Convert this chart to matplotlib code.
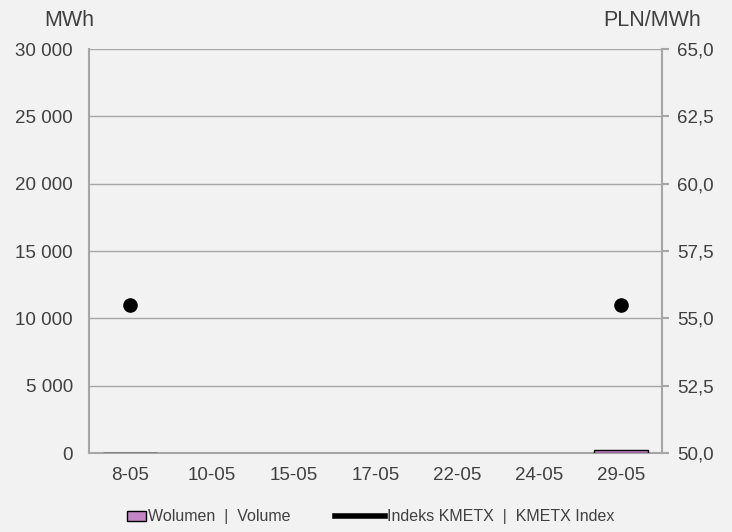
import numpy as np
import matplotlib
matplotlib.use("Agg")
import matplotlib.pyplot as plt
from matplotlib.patches import Patch
from matplotlib.lines import Line2D
from matplotlib.ticker import FuncFormatter

plt.rcParams['font.family'] = ['Liberation Sans', 'DejaVu Sans']

categories = ['8-05', '10-05', '15-05', '17-05', '22-05', '24-05', '29-05']
volume = [25, np.nan, np.nan, np.nan, np.nan, np.nan, 200]
index = [55.5, np.nan, np.nan, np.nan, np.nan, np.nan, 55.5]

left_ticks = [0, 5000, 10000, 15000, 20000, 25000, 30000]
right_ticks = [50.0, 52.5, 55.0, 57.5, 60.0, 62.5, 65.0]

bg = '#f2f2f2'
grid_c = '#a6a6a6'
txt_c = '#404040'
fs = 13.5
fs_title = 15.5
fs_leg = 11.5

W, H = 732, 532
fig = plt.figure(figsize=(W/100, H/100), dpi=100, facecolor=bg)
ax = fig.add_axes([89/W, 1-453/H, (662-89)/W, (453-49)/H])
ax.set_facecolor(bg)
x = np.arange(len(categories))
ax.bar(x, volume, width=0.65, color='#c485c4', edgecolor='black', linewidth=1.0, zorder=3)
ax.set_xlim(-0.5, len(categories)-0.5)
ax.set_ylim(0, 30000)
ax.set_yticks(left_ticks)
ax.yaxis.set_major_formatter(FuncFormatter(lambda v, p: f"{int(v):,}".replace(',', ' ')))
ax.set_xticks(x)
ax.set_xticklabels(categories)
ax.grid(axis='y', color=grid_c, linewidth=1.0, zorder=0)
for s in ['top', 'right']:
    ax.spines[s].set_visible(False)
for s in ['left', 'bottom']:
    ax.spines[s].set_color(grid_c)
    ax.spines[s].set_linewidth(1.5)
ax.tick_params(axis='y', length=0, labelsize=fs, labelcolor=txt_c, pad=11.5)
ax.tick_params(axis='x', length=0, labelsize=fs, labelcolor=txt_c, pad=10)

ax2 = ax.twinx()
ax2.plot(x, index, color='black', linewidth=4, marker='o', markersize=9.5, zorder=4)
ax2.set_ylim(50, 65)
ax2.set_yticks(right_ticks)
ax2.set_yticklabels([f"{v:.1f}".replace('.', ',') for v in right_ticks])
for s in ['top', 'left', 'bottom']:
    ax2.spines[s].set_visible(False)
ax2.spines['right'].set_color(grid_c)
ax2.spines['right'].set_linewidth(1.5)
ax2.tick_params(axis='y', length=5, width=1.5, color=grid_c, labelsize=fs, labelcolor=txt_c, pad=6)

fig.text(69/W, 1-21/H, 'MWh', ha='center', va='center', fontsize=fs_title, color=txt_c)
fig.text(652/W, 1-21/H, 'PLN/MWh', ha='center', va='center', fontsize=fs_title, color=txt_c)

leg_y = 1-517/H
leg1 = fig.legend([Patch(facecolor='#c485c4', edgecolor='black', linewidth=1.0)],
                  ['Wolumen  |  Volume'], loc='center left', bbox_to_anchor=(127/W, leg_y),
                  frameon=False, fontsize=fs_leg, handlelength=1.2, handleheight=0.55,
                  handletextpad=0.1, borderpad=0, borderaxespad=0, labelcolor=txt_c)
leg2 = fig.legend([Line2D([0], [0], color='black', linewidth=4)],
                  ['Indeks KMETX  |  KMETX Index'], loc='center left', bbox_to_anchor=(335/W, leg_y),
                  frameon=False, fontsize=fs_leg, handlelength=3.1,
                  handletextpad=0.15, borderpad=0, borderaxespad=0, labelcolor=txt_c)

fig.savefig('out.png', dpi=100, facecolor=bg)
